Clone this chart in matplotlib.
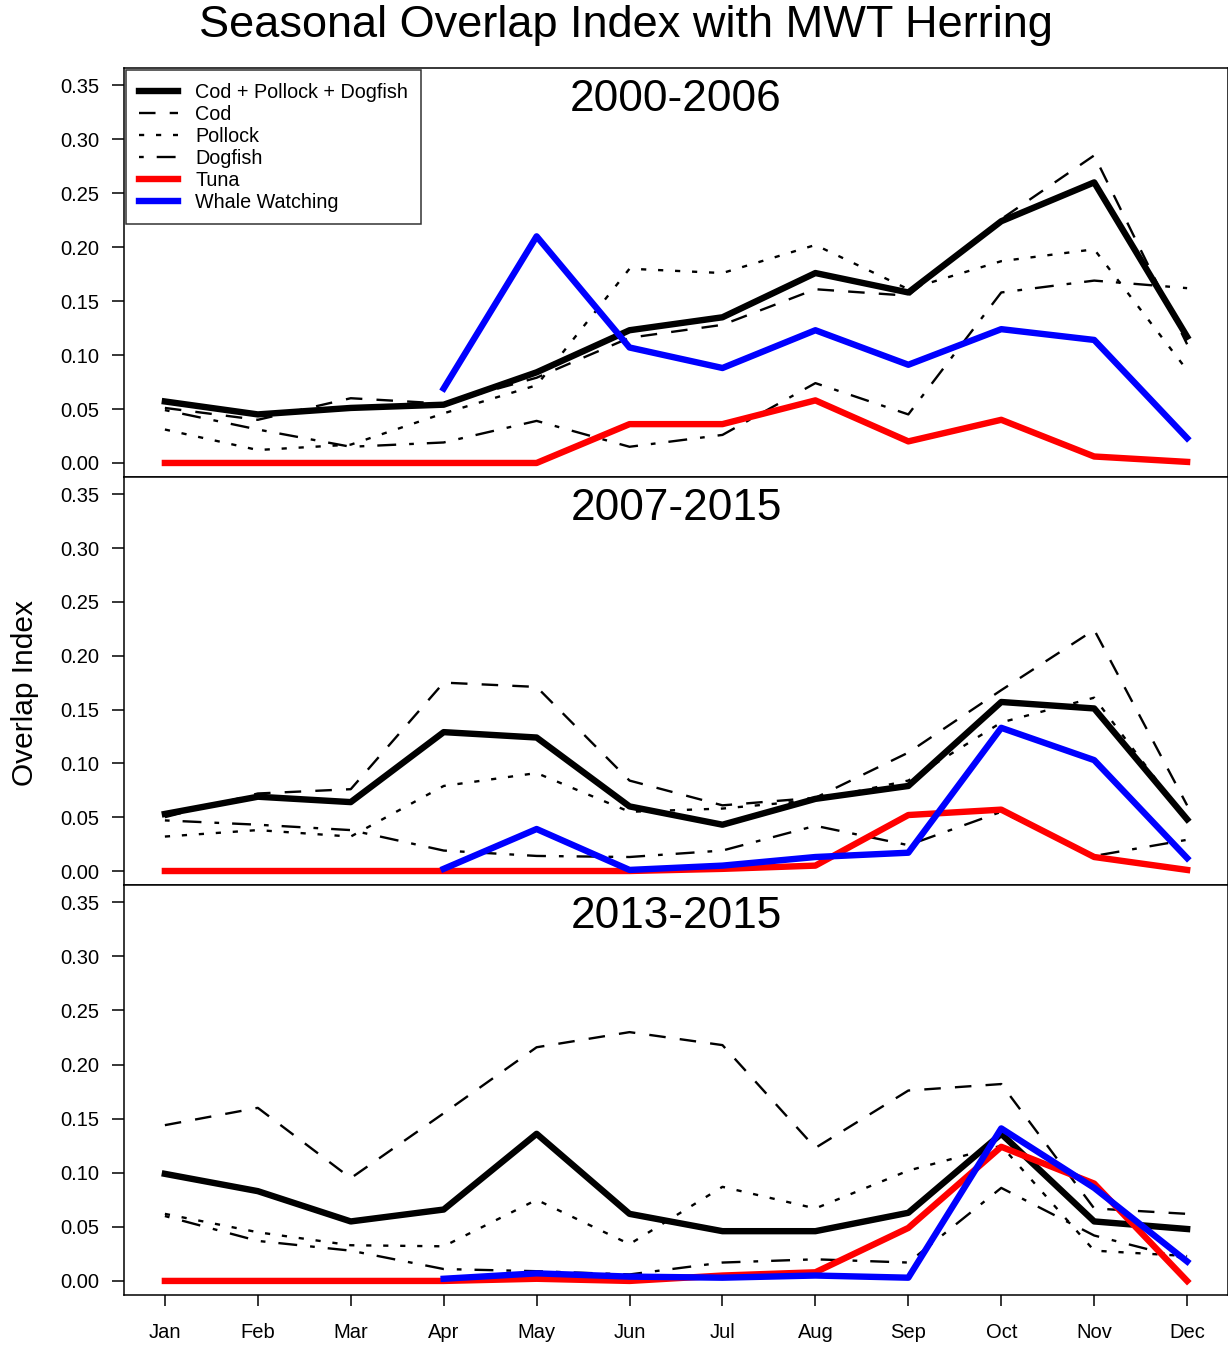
import numpy as np
import matplotlib
matplotlib.use('Agg')
from matplotlib import pyplot as plt

plt.rcParams['font.family'] = ['Liberation Sans', 'DejaVu Sans']

months = ['Jan', 'Feb', 'Mar', 'Apr', 'May', 'Jun', 'Jul', 'Aug', 'Sep', 'Oct', 'Nov', 'Dec']
periods = ['2000-2006', '2007-2015', '2013-2015']
nan = np.nan

# Cod + Pollock + Dogfish
total = [
    [0.057, 0.045, 0.051, 0.054, 0.084, 0.123, 0.135, 0.176, 0.158, 0.224, 0.260, 0.117],
    [0.053, 0.069, 0.064, 0.129, 0.124, 0.060, 0.043, 0.067, 0.079, 0.157, 0.151, 0.048],
    [0.099, 0.083, 0.055, 0.066, 0.136, 0.062, 0.046, 0.046, 0.063, 0.136, 0.055, 0.048],
]
cod = [
    [0.051, 0.040, 0.060, 0.055, 0.079, 0.116, 0.128, 0.161, 0.155, 0.226, 0.285, 0.110],
    [0.050, 0.072, 0.076, 0.175, 0.171, 0.084, 0.061, 0.068, 0.110, 0.168, 0.224, 0.061],
    [0.144, 0.160, 0.095, 0.155, 0.216, 0.230, 0.218, 0.123, 0.176, 0.182, 0.067, 0.062],
]
pollock = [
    [0.031, 0.012, 0.017, 0.046, 0.072, 0.180, 0.176, 0.202, 0.161, 0.187, 0.198, 0.086],
    [0.032, 0.038, 0.032, 0.079, 0.091, 0.055, 0.058, 0.066, 0.084, 0.138, 0.161, 0.047],
    [0.062, 0.045, 0.033, 0.032, 0.075, 0.034, 0.087, 0.067, 0.102, 0.125, 0.028, 0.023],
]
dogfish = [
    [0.049, 0.031, 0.015, 0.019, 0.039, 0.015, 0.026, 0.074, 0.045, 0.158, 0.169, 0.162],
    [0.047, 0.043, 0.038, 0.019, 0.014, 0.013, 0.019, 0.042, 0.024, 0.055, 0.014, 0.029],
    [0.060, 0.037, 0.028, 0.011, 0.009, 0.006, 0.017, 0.020, 0.017, 0.086, 0.042, 0.020],
]
tuna = [
    [0.0, 0.0, 0.0, 0.0, 0.0, 0.036, 0.036, 0.058, 0.020, 0.040, 0.006, 0.001],
    [0.0, 0.0, 0.0, 0.0, 0.0, 0.0, 0.002, 0.005, 0.052, 0.057, 0.013, 0.001],
    [0.0, 0.0, 0.0, 0.0, 0.002, 0.0, 0.005, 0.008, 0.049, 0.124, 0.090, 0.0],
]
whale = [
    [nan, nan, nan, 0.069, 0.210, 0.107, 0.088, 0.123, 0.091, 0.124, 0.114, 0.023],
    [nan, nan, nan, 0.002, 0.039, 0.001, 0.005, 0.013, 0.017, 0.133, 0.103, 0.012],
    [nan, nan, nan, 0.002, 0.007, 0.004, 0.003, 0.005, 0.003, 0.141, 0.086, 0.018],
]

x = np.arange(1, 13)
W, H = 1228, 1347
fig = plt.figure(figsize=(W / 100, H / 100), dpi=100)

# panel edges in pixels (top, bottom)
panels = [(68, 477), (477, 885), (885, 1295)]
left, right = 124 / W, 1.0

thin = 1.7
thick = 4.6
for i, (top, bot) in enumerate(panels):
    ax = fig.add_axes([left, 1 - bot / H, right - left, (bot - top) / H])
    ax.plot(x, cod[i], color='black', lw=thin, dashes=(7, 6), label='Cod')
    ax.plot(x, pollock[i], color='black', lw=thin, dashes=(2.2, 5), label='Pollock')
    ax.plot(x, dogfish[i], color='black', lw=thin, dashes=(2, 5.5, 8, 5.5), label='Dogfish')
    ax.plot(x, total[i], color='black', lw=thick, label='Cod + Pollock + Dogfish')
    ax.plot(x, tuna[i], color='#ff0000', lw=thick, label='Tuna')
    ax.plot(x, whale[i], color='#0000ff', lw=thick, label='Whale Watching')

    ax.set_xlim(0.56, 12.44)
    ax.set_ylim(-0.013, 0.366)
    ax.set_yticks(np.arange(0, 0.36, 0.05))
    ax.set_yticklabels(['%.2f' % v for v in np.arange(0, 0.36, 0.05)])
    ax.tick_params(axis='y', direction='out', length=8.5, width=1.1, pad=9, labelsize=14.5)
    for s in ax.spines.values():
        s.set_linewidth(1.1)
    ax.text(0.5, 0.922, periods[i], transform=ax.transAxes, ha='center', va='center', fontsize=31.8)

    if i < 2:
        ax.set_xticks([])
    else:
        ax.set_xticks(x)
        ax.set_xticklabels(months)
        ax.tick_params(axis='x', direction='out', length=8, width=1.1, pad=12, labelsize=14.5)

    if i == 0:
        h, l = ax.get_legend_handles_labels()
        order = [3, 0, 1, 2, 4, 5]
        leg = ax.legend([h[k] for k in order], [l[k] for k in order], loc='upper left',
                        fontsize=14.2, frameon=True, fancybox=False, borderaxespad=0.1,
                        handlelength=2.0, handletextpad=0.85, labelspacing=0.15,
                        borderpad=0.65)
        leg.get_frame().set_edgecolor('black')
        leg.get_frame().set_linewidth(1.1)

fig.text(0.51, 1 - 26 / H, 'Seasonal Overlap Index with MWT Herring', ha='center', va='center', fontsize=32.5)
fig.text(25 / W, 1 - 693 / H, 'Overlap Index', rotation=90, ha='center', va='center', fontsize=21.5)

plt.savefig('out.png', dpi=100)
